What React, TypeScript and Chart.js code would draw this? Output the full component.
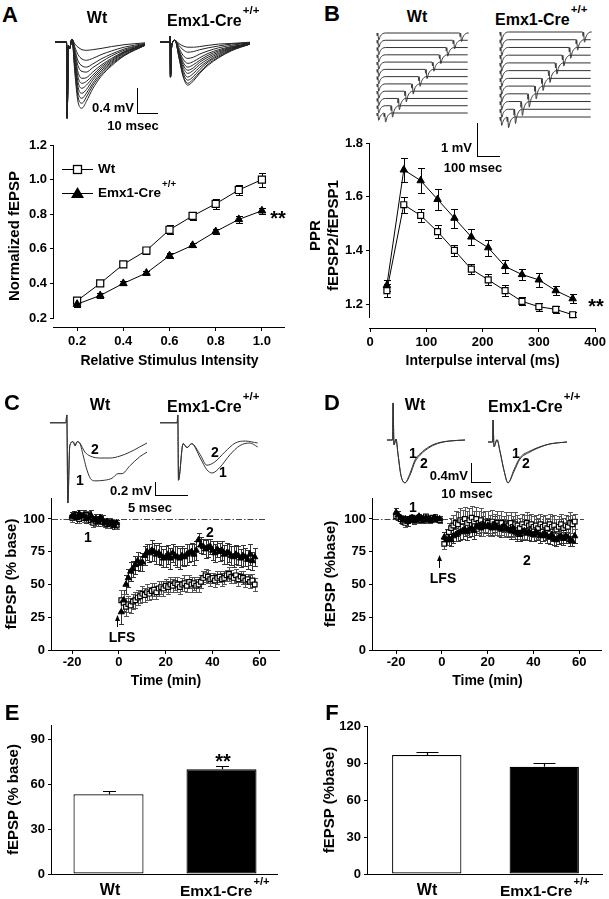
import React, { useEffect, useRef } from 'react';
import { Chart, registerables } from 'chart.js';

Chart.register(...registerables);

const FONT = '"Liberation Sans", Arial, Helvetica, sans-serif';

// ===== Panel A: input-output =====
const A_INTENSITY = [0.2, 0.3, 0.4, 0.5, 0.6, 0.7, 0.8, 0.9, 1.0];
const A_WT = [0.30, 0.40, 0.51, 0.59, 0.71, 0.79, 0.86, 0.94, 1.00];
const A_WT_ERR = [0.015, 0.012, 0.018, 0.02, 0.025, 0.025, 0.03, 0.03, 0.04];
const A_EMX = [0.28, 0.33, 0.40, 0.46, 0.56, 0.62, 0.70, 0.77, 0.82];
const A_EMX_ERR = [0.015, 0.012, 0.012, 0.012, 0.015, 0.012, 0.012, 0.018, 0.018];
const A_X_TICKS = [0.2, 0.4, 0.6, 0.8, 1.0];
const A_Y_TICKS = [0.2, 0.4, 0.6, 0.8, 1.0, 1.2];

// A example traces (ms, mV)
const A_WT_PREFIX = [[0, 0], [5.5, 0], [5.8, -1.22], [6.4, -0.05], [7.0, -0.1], [8.1, 0.05]];
const A_WT_TIMES = [9.5, 11, 12.9, 15, 18, 22, 27, 33, 43];
const A_WT_TRACES = [
  [-0.03, -0.08, -0.12, -0.13, -0.12, -0.10, -0.07, -0.04, -0.01],
  [-0.08, -0.20, -0.27, -0.29, -0.26, -0.20, -0.14, -0.08, -0.02],
  [-0.12, -0.30, -0.38, -0.40, -0.35, -0.27, -0.19, -0.11, -0.03],
  [-0.16, -0.38, -0.47, -0.48, -0.41, -0.32, -0.22, -0.13, -0.03],
  [-0.20, -0.48, -0.58, -0.57, -0.48, -0.37, -0.26, -0.15, -0.04],
  [-0.24, -0.56, -0.66, -0.63, -0.53, -0.40, -0.28, -0.16, -0.04],
  [-0.29, -0.64, -0.74, -0.69, -0.57, -0.43, -0.30, -0.17, -0.04],
  [-0.34, -0.72, -0.82, -0.76, -0.61, -0.46, -0.32, -0.18, -0.05],
  [-0.39, -0.80, -0.90, -0.82, -0.66, -0.49, -0.34, -0.20, -0.05],
  [-0.44, -0.88, -0.98, -0.88, -0.70, -0.52, -0.36, -0.21, -0.05],
  [-0.50, -0.96, -1.06, -0.95, -0.75, -0.55, -0.38, -0.22, -0.05],
];
const A_EMX_PREFIX = [[0, 0], [4.6, 0], [4.8, 0.19], [5.0, -0.56], [5.6, -0.05], [7.2, 0.03]];
const A_EMX_TIMES = [9, 11, 13.3, 16, 19, 23, 28, 34, 43];
const A_EMX_TRACES = [
  [-0.02, -0.06, -0.08, -0.08, -0.07, -0.05, -0.03, -0.02, 0],
  [-0.05, -0.12, -0.16, -0.15, -0.12, -0.09, -0.06, -0.03, -0.01],
  [-0.09, -0.21, -0.26, -0.24, -0.19, -0.14, -0.09, -0.05, -0.01],
  [-0.12, -0.27, -0.34, -0.31, -0.25, -0.18, -0.12, -0.07, -0.02],
  [-0.14, -0.32, -0.40, -0.36, -0.29, -0.21, -0.14, -0.08, -0.02],
  [-0.16, -0.36, -0.45, -0.41, -0.32, -0.24, -0.16, -0.09, -0.02],
  [-0.18, -0.40, -0.50, -0.45, -0.36, -0.27, -0.18, -0.10, -0.03],
  [-0.20, -0.45, -0.56, -0.50, -0.40, -0.30, -0.20, -0.11, -0.03],
  [-0.21, -0.49, -0.61, -0.55, -0.44, -0.32, -0.22, -0.12, -0.03],
  [-0.23, -0.53, -0.66, -0.59, -0.48, -0.35, -0.24, -0.13, -0.03],
  [-0.24, -0.55, -0.69, -0.62, -0.50, -0.37, -0.25, -0.14, -0.03],
];

// ===== Panel B: paired-pulse ratio =====
const B_INTERVAL = [30, 60, 90, 120, 150, 180, 210, 240, 270, 300, 330, 360];
const B_WT = [1.25, 1.57, 1.53, 1.47, 1.40, 1.33, 1.29, 1.25, 1.21, 1.19, 1.18, 1.16];
const B_WT_ERR = [0.025, 0.03, 0.025, 0.025, 0.02, 0.02, 0.02, 0.02, 0.015, 0.015, 0.012, 0.01];
const B_EMX = [1.27, 1.70, 1.66, 1.59, 1.52, 1.45, 1.41, 1.34, 1.31, 1.29, 1.25, 1.22];
const B_EMX_ERR = [0.02, 0.045, 0.045, 0.04, 0.035, 0.03, 0.03, 0.025, 0.02, 0.025, 0.018, 0.018];
const B_X_TICKS = [0, 100, 200, 300, 400];
const B_Y_TICKS = [1.2, 1.4, 1.6, 1.8];
// one fEPSP in the stacked example traces (ms, mV)
const B_DIP = [[0, 0], [2, -0.1], [4, 0], [8, -0.24], [14, -0.12], [24, -0.03], [38, 0]];
const B_TRACE_END = 395;

// ===== Panels C & D: time course =====
const TIME_PRE = [-20, -19, -18, -17, -16, -15, -14, -13, -12, -11, -10, -9, -8, -7, -6, -5, -4, -3, -2, -1];
const TIME_POST = [1, 2, 3, 4, 5, 6, 7, 8, 9, 10, 11, 12, 13, 14, 15, 16, 17, 18, 19, 20,
  21, 22, 23, 24, 25, 26, 27, 28, 29, 30, 31, 32, 33, 34, 35, 36, 37, 38, 39, 40,
  41, 42, 43, 44, 45, 46, 47, 48, 49, 50, 51, 52, 53, 54, 55, 56, 57, 58];
const TC_Y_TICKS = [0, 25, 50, 75, 100];
const TC_X_TICKS = [-20, 0, 20, 40, 60];

const C_EMX_PRE = [102, 103, 101, 104, 102, 103, 100, 101, 103, 99, 100, 98, 101, 99, 97, 98, 96, 97, 95, 97];
const C_EMX_PRE_ERR = [3, 3, 4, 3, 3, 4, 3, 3, 4, 3, 4, 3, 3, 4, 3, 3, 3, 2, 3, 2];
const C_WT_PRE = [101, 102, 103, 100, 102, 101, 103, 102, 99, 97, 98, 99, 100, 98, 97, 96, 98, 97, 96, 95];
const C_WT_PRE_ERR = [3, 3, 2, 3, 3, 3, 3, 4, 3, 3, 3, 3, 4, 3, 3, 3, 3, 3, 2, 3];
const C_EMX_POST = [29, 38, 50, 55, 60, 62, 65, 68, 66, 67, 72, 75, 74, 76, 75, 73, 74, 72, 70, 71,
  73, 70, 74, 72, 71, 70, 72, 71, 73, 74, 75, 73, 76, 84, 80, 79, 77, 78, 79, 76,
  74, 77, 75, 76, 73, 74, 74, 72, 71, 73, 72, 70, 72, 71, 69, 73, 68, 71];
const C_EMX_POST_ERR = [9, 8, 7, 7, 7, 6, 7, 7, 6, 7, 7, 6, 7, 8, 7, 7, 8, 7, 7, 8,
  7, 8, 7, 7, 8, 8, 7, 7, 8, 7, 7, 8, 7, 5, 6, 6, 7, 7, 6, 7,
  7, 6, 7, 7, 7, 8, 7, 7, 8, 7, 7, 7, 8, 7, 7, 8, 7, 7];
const C_WT_POST = [38, 36, 33, 35, 34, 37, 38, 40, 41, 43, 42, 44, 43, 45, 46, 44, 47, 48, 47, 49,
  48, 50, 49, 51, 50, 48, 50, 51, 49, 52, 50, 51, 49, 50, 52, 55, 57, 56, 54, 55,
  53, 55, 56, 54, 55, 57, 58, 56, 55, 57, 54, 56, 55, 53, 54, 52, 53, 50];
const C_WT_POST_ERR = [8, 7, 7, 6, 6, 6, 6, 6, 5, 6, 5, 6, 5, 6, 5, 5, 6, 5, 6, 5,
  5, 6, 5, 5, 6, 5, 5, 6, 5, 5, 6, 5, 5, 6, 5, 5, 5, 5, 5, 4,
  5, 5, 4, 5, 5, 4, 5, 5, 4, 5, 5, 4, 5, 5, 4, 5, 5, 5];

const D_EMX_PRE = [105, 103, 101, 99, 100, 98, 100, 101, 99, 100, 102, 100, 99, 101, 100, 99, 100, 101, 100, 100];
const D_EMX_PRE_ERR = [3, 3, 2, 3, 2, 3, 2, 2, 3, 2, 2, 3, 2, 2, 3, 2, 2, 3, 2, 2];
const D_WT_PRE = [102, 101, 100, 98, 97, 99, 100, 101, 99, 100, 101, 99, 100, 102, 100, 99, 101, 100, 100, 99];
const D_WT_PRE_ERR = [2, 2, 3, 2, 3, 2, 2, 2, 2, 3, 2, 2, 2, 2, 3, 2, 2, 2, 2, 2];
const D_EMX_POST = [86, 84, 85, 84, 87, 88, 89, 90, 91, 92, 90, 92, 93, 91, 94, 95, 93, 96, 94, 95,
  94, 93, 96, 94, 93, 92, 95, 93, 92, 91, 93, 90, 89, 88, 90, 91, 89, 90, 89, 88,
  90, 89, 87, 88, 89, 87, 86, 88, 85, 84, 86, 87, 85, 87, 86, 84, 83, 87];
const D_EMX_POST_ERR = [4, 4, 5, 5, 5, 5, 6, 6, 6, 5, 6, 6, 6, 6, 6, 6, 6, 6, 5, 6,
  6, 6, 6, 6, 6, 6, 5, 6, 6, 6, 6, 5, 6, 5, 6, 6, 5, 6, 6, 5,
  6, 5, 5, 5, 5, 5, 5, 5, 5, 5, 5, 5, 5, 5, 4, 5, 4, 5];
const D_WT_POST = [81, 86, 90, 93, 95, 97, 96, 99, 98, 100, 97, 99, 101, 98, 100, 97, 99, 96, 98, 97,
  95, 98, 96, 97, 95, 97, 94, 96, 95, 97, 94, 96, 95, 93, 96, 94, 97, 95, 96, 94,
  95, 93, 96, 94, 95, 93, 96, 94, 95, 92, 94, 96, 93, 95, 94, 97, 96, 98];
const D_WT_POST_ERR = [4, 6, 7, 8, 8, 9, 9, 9, 9, 9, 9, 9, 9, 8, 9, 9, 9, 9, 8, 9,
  8, 9, 8, 9, 8, 9, 8, 9, 8, 8, 8, 9, 8, 8, 8, 9, 8, 8, 8, 8,
  8, 8, 8, 8, 8, 8, 8, 8, 8, 8, 8, 8, 8, 8, 8, 8, 7, 6];

// C example traces (ms, mV)
const C_WT_PREFIX = [[0, 0], [2.4, 0], [2.55, 0.12], [2.7, -1.23], [3.0, -0.35], [3.5, -0.29], [3.8, -0.35], [4.1, -0.29], [4.5, -0.31]];
const C_WT_TRACE_2 = [[5.3, -0.45], [6.1, -0.51], [7.6, -0.54], [9.1, -0.54], [10.6, -0.51], [12.1, -0.45], [13.6, -0.37], [14.7, -0.31]];
const C_WT_TRACE_1 = [[5.0, -0.49], [5.5, -0.69], [6.1, -0.85], [6.8, -0.89], [8.3, -0.88], [9.4, -0.85], [10.3, -0.78], [10.9, -0.78], [12.1, -0.66], [13.6, -0.52], [14.7, -0.45]];
const C_EMX_PREFIX = [[0, 0], [2.6, 0], [2.7, 0.12], [2.8, -0.88], [3.5, -0.32], [4.1, -0.38], [4.8, -0.32]];
const C_EMX_TRACE_2 = [[6.1, -0.49], [7.1, -0.65], [8.3, -0.60], [9.8, -0.45], [11.4, -0.31], [12.9, -0.28], [14.8, -0.31]];
const C_EMX_TRACE_1 = [[6.1, -0.54], [7.1, -0.72], [7.9, -0.77], [9.1, -0.68], [10.6, -0.49], [12.1, -0.35], [13.6, -0.31], [14.8, -0.37]];

// D example traces (ms, mV)
const D_WT_PREFIX = [[0, 0], [2.8, 0], [3, 0.78], [3.5, -0.1], [4.5, 0.02], [5.5, -0.3], [7, -0.75], [9, -0.9]];
const D_WT_TRACE_1 = [[11.5, -0.74], [14, -0.46], [16.5, -0.32], [21.5, -0.15], [26.5, -0.06], [31.5, -0.02], [39, 0]];
const D_WT_TRACE_2 = [[11.5, -0.70], [14, -0.42], [16.5, -0.29], [21.5, -0.13], [26.5, -0.05], [31.5, -0.02], [39, 0]];
const D_EMX_PREFIX = [[0, 0], [2.3, 0], [2.5, 0.46], [3, -0.1], [4.5, 0.05], [6, -0.2], [8, -0.6], [10, -0.86]];
const D_EMX_TRACE_1 = [[13, -0.62], [16, -0.36], [21, -0.21], [26, -0.11], [31, -0.04], [39.5, 0]];
const D_EMX_TRACE_2 = [[13, -0.58], [16, -0.33], [21, -0.19], [26, -0.10], [31, -0.04], [39.5, 0]];

// ===== Panels E & F: bars =====
const GROUPS = ['Wt', 'Emx1-Cre+/+'];
const E_VALUES = [53.5, 70.3];
const E_ERR = [2.0, 2.2];
const E_Y_TICKS = [0, 30, 60, 90];
const F_VALUES = [96.5, 87];
const F_ERR = [2.5, 3];
const F_Y_TICKS = [0, 30, 60, 90, 120];

// ================= helpers =================
const TICK_FONT = { family: FONT, size: 13, weight: 'bold' as const };

function linearAxis(o: any) {
  return {
    type: 'linear',
    bounds: 'data',
    min: o.min,
    max: o.max,
    afterBuildTicks: (s: any) => { s.ticks = o.ticks.map((v: number) => ({ value: v })); },
    afterFit: (s: any) => { if (o.horizontal) s.height = o.size; else s.width = o.size; },
    ticks: {
      font: TICK_FONT, color: '#000', padding: o.tickPad ?? 3, autoSkip: false, maxRotation: 0, minRotation: 0,
      callback: (v: any) => (o.fmt ? o.fmt(Number(v)) : String(v)),
    },
    grid: { display: true, drawOnChartArea: false, drawTicks: true, tickLength: 4, color: '#000', lineWidth: 1 },
    border: { display: false },
    title: o.title
      ? {
        display: true, text: o.title, color: '#000',
        font: { family: FONT, size: o.horizontal ? 14 : 15, weight: 'bold', lineHeight: o.titleLH ?? 1.2 },
        padding: o.horizontal ? { top: 0, bottom: o.titlePad ?? 0 } : { top: o.titlePad ?? 0, bottom: 0 },
      }
      : { display: false },
  };
}

function baseOptions(padding: any, x: any, y: any) {
  return {
    responsive: false, maintainAspectRatio: false, animation: false, devicePixelRatio: 1, events: [],
    layout: { padding },
    plugins: { legend: { display: false }, tooltip: { enabled: false } },
    scales: { x, y },
  };
}

function markerDs(xs: number[], ys: number[], errs: number[], shape: string, r: number, cap: number, line: boolean, errColor = '#000') {
  return {
    data: xs.map((x, i) => ({ x, y: ys[i] })),
    errors: errs, errorCap: cap, errorColor: errColor, errorWidth: 1,
    showLine: line, borderColor: '#000', borderWidth: 1, tension: 0,
    pointStyle: shape === 'sq' ? 'rect' : 'triangle', pointRadius: r,
    pointBackgroundColor: shape === 'sq' ? '#fff' : '#000', pointBorderColor: '#000',
    pointBorderWidth: shape === 'sq' ? 1.2 : 1,
    clip: false,
  };
}

function drawErrorBars(chart: any, layer: string) {
  const ctx = chart.ctx;
  const ys = chart.scales.y;
  chart.data.datasets.forEach((ds: any, i: number) => {
    if (!ds.errors || (ds.errorLayer || 'below') !== layer) return;
    const meta = chart.getDatasetMeta(i);
    ctx.save();
    ctx.strokeStyle = ds.errorColor || '#000';
    ctx.lineWidth = ds.errorWidth || 1;
    meta.data.forEach((el: any, j: number) => {
      const raw = ds.data[j];
      const v = typeof raw === 'number' ? raw : raw.y;
      const e = ds.errors[j];
      if (e == null) return;
      const x = Math.round(el.x) + 0.5;
      const yT = Math.round(ys.getPixelForValue(v + e)) + 0.5;
      const yB = ds.errorUpOnly ? ys.getPixelForValue(v) : Math.round(ys.getPixelForValue(v - e)) + 0.5;
      const h = (ds.errorCap || 6) / 2;
      ctx.beginPath();
      ctx.moveTo(x, yT); ctx.lineTo(x, yB);
      ctx.moveTo(x - h, yT); ctx.lineTo(x + h, yT);
      if (!ds.errorUpOnly) { ctx.moveTo(x - h, yB); ctx.lineTo(x + h, yB); }
      ctx.stroke();
    });
    ctx.restore();
  });
}
const errorBarPlugin = {
  id: 'errorBars',
  beforeDatasetsDraw: (c: any) => drawErrorBars(c, 'below'),
  afterDatasetsDraw: (c: any) => drawErrorBars(c, 'above'),
};

function axisLinesPlugin(yLineMin?: number) {
  return {
    id: 'axisLines',
    afterDraw(chart: any) {
      const { ctx, chartArea: a } = chart;
      const ys = chart.scales.y;
      ctx.save();
      ctx.strokeStyle = '#000';
      ctx.lineWidth = 1;
      const xl = Math.round(a.left) - 0.5;
      const yb = yLineMin != null ? Math.round(ys.getPixelForValue(yLineMin)) + 1 : Math.round(a.bottom) + 1;
      ctx.beginPath(); ctx.moveTo(xl, Math.round(a.top)); ctx.lineTo(xl, yb); ctx.stroke();
      const yx = Math.round(a.bottom) + 0.5;
      ctx.beginPath(); ctx.moveTo(Math.round(a.left) - 1, yx); ctx.lineTo(Math.round(a.right), yx); ctx.stroke();
      ctx.restore();
    },
  };
}

function refMarksPlugin(o: any) {
  return {
    id: 'refMarks',
    beforeDatasetsDraw(chart: any) {
      const { ctx, chartArea: a } = chart;
      const xs = chart.scales.x, ys = chart.scales.y;
      ctx.save();
      ctx.strokeStyle = '#444';
      ctx.lineWidth = 1;
      ctx.setLineDash([6, 2, 1.5, 2]);
      const yy = Math.round(ys.getPixelForValue(o.baseline)) + 0.5;
      ctx.beginPath(); ctx.moveTo(a.left, yy); ctx.lineTo(xs.getPixelForValue(o.lineEnd), yy); ctx.stroke();
      ctx.setLineDash([]);
      const ax = Math.round(xs.getPixelForValue(o.arrowX)) + 0.5;
      const y0 = ys.getPixelForValue(o.arrowFrom);
      const y1 = ys.getPixelForValue(o.arrowTo);
      ctx.strokeStyle = '#000';
      ctx.beginPath(); ctx.moveTo(ax, y0); ctx.lineTo(ax, y1 + 4); ctx.stroke();
      ctx.fillStyle = '#000';
      ctx.beginPath(); ctx.moveTo(ax, y1); ctx.lineTo(ax - 2.5, y1 + 6); ctx.lineTo(ax + 2.5, y1 + 6); ctx.closePath(); ctx.fill();
      ctx.restore();
    },
  };
}

function legendSymbolsPlugin(items: any[]) {
  return {
    id: 'legendSymbols',
    afterDraw(chart: any) {
      const ctx = chart.ctx;
      items.forEach((it) => {
        ctx.save();
        ctx.strokeStyle = '#000';
        ctx.lineWidth = 1;
        ctx.beginPath(); ctx.moveTo(it.x0, it.y + 0.5); ctx.lineTo(it.x1, it.y + 0.5); ctx.stroke();
        const cx = (it.x0 + it.x1) / 2;
        if (it.shape === 'sq') {
          ctx.fillStyle = '#fff';
          ctx.fillRect(cx - 4, it.y - 3.5, 8, 8);
          ctx.lineWidth = 1.3;
          ctx.strokeRect(cx - 4, it.y - 3.5, 8, 8);
        } else {
          ctx.fillStyle = '#000';
          ctx.beginPath(); ctx.moveTo(cx, it.y - 6); ctx.lineTo(cx + 6.5, it.y + 5); ctx.lineTo(cx - 6.5, it.y + 5); ctx.closePath(); ctx.fill();
        }
        ctx.restore();
      });
    },
  };
}

function pts(pairs: number[][]) { return pairs.map(([x, y]) => ({ x, y })); }

function traceConfig(sets: any[][], xr: number[], yr: number[], color = '#222') {
  return {
    type: 'line',
    data: {
      datasets: sets.map((d) => ({
        data: d, borderColor: color, borderWidth: 1, pointRadius: 0,
        cubicInterpolationMode: 'monotone', fill: false, clip: false,
      })),
    },
    options: {
      responsive: false, maintainAspectRatio: false, animation: false, devicePixelRatio: 1, events: [],
      layout: { padding: 0 },
      plugins: { legend: { display: false }, tooltip: { enabled: false } },
      scales: {
        x: { type: 'linear', display: false, min: xr[0], max: xr[1] },
        y: { type: 'linear', display: false, min: yr[0], max: yr[1] },
      },
    },
  };
}

function bTrace(isi: number, ppr: number, base: number, gain: number) {
  const out: any[] = [];
  B_DIP.forEach(([t, v]) => { if (t < isi) out.push({ x: t, y: base + v * gain }); });
  B_DIP.forEach(([t, v]) => out.push({ x: isi + t, y: base + v * gain * ppr }));
  out.push({ x: B_TRACE_END, y: base });
  return out;
}

// ================= chart configs =================
function makeA() {
  return {
    type: 'line',
    data: {
      datasets: [
        markerDs(A_INTENSITY, A_EMX, A_EMX_ERR, 'tri', 4.5, 7, true),
        markerDs(A_INTENSITY, A_WT, A_WT_ERR, 'sq', 5, 7, true),
      ],
    },
    options: baseOptions(
      { top: 15, right: 15, left: 0, bottom: 0 },
      linearAxis({ min: 0.1, max: 1.1, ticks: A_X_TICKS, fmt: (v: number) => v.toFixed(1), size: 43, horizontal: true, title: 'Relative Stimulus Intensity' }),
      linearAxis({ min: 0.148, max: 1.2, ticks: A_Y_TICKS, fmt: (v: number) => v.toFixed(1), size: 54, horizontal: false, title: 'Normalized fEPSP', titlePad: 6 }),
    ),
    plugins: [
      errorBarPlugin,
      axisLinesPlugin(0.2),
      legendSymbolsPlugin([
        { x0: 62, x1: 93, y: 39, shape: 'sq' },
        { x0: 62, x1: 93, y: 63, shape: 'tri' },
      ]),
    ],
  };
}

function makeB() {
  return {
    type: 'line',
    data: {
      datasets: [
        markerDs(B_INTERVAL, B_EMX, B_EMX_ERR, 'tri', 4.3, 7, true),
        markerDs(B_INTERVAL, B_WT, B_WT_ERR, 'sq', 4.2, 7, true),
      ],
    },
    options: baseOptions(
      { top: 13, right: 11, left: 0, bottom: 0 },
      linearAxis({ min: 0, max: 400, ticks: B_X_TICKS, size: 42, horizontal: true, title: 'Interpulse interval (ms)' }),
      linearAxis({ min: 1.1106, max: 1.8, ticks: B_Y_TICKS, fmt: (v: number) => v.toFixed(1), size: 70, horizontal: false, title: ['PPR', 'fEPSP2/fEPSP1'], titlePad: 7, titleLH: 1.2 }),
    ),
    plugins: [errorBarPlugin, axisLinesPlugin(1.15)],
  };
}

function makeTimeCourse(emxPre: number[], emxPreErr: number[], emxPost: number[], emxPostErr: number[],
  wtPre: number[], wtPreErr: number[], wtPost: number[], wtPostErr: number[],
  xmin: number, xmax: number, yAxisW: number, padRight: number, yTitle: string, yTitlePad: number, marks: any) {
  const t = [...TIME_PRE, ...TIME_POST];
  return {
    type: 'line',
    data: {
      datasets: [
        markerDs(t, [...emxPre, ...emxPost], [...emxPreErr, ...emxPostErr], 'tri', 3.6, 5, false, '#333'),
        markerDs(t, [...wtPre, ...wtPost], [...wtPreErr, ...wtPostErr], 'sq', 3.3, 5, false, '#555'),
      ],
    },
    options: baseOptions(
      { top: 18, right: padRight, left: 0, bottom: 0 },
      linearAxis({ min: xmin, max: xmax, ticks: TC_X_TICKS, size: 40, horizontal: true, title: 'Time (min)', tickPad: 1 }),
      linearAxis({ min: 0, max: 116, ticks: TC_Y_TICKS, size: yAxisW, horizontal: false, title: yTitle, titlePad: yTitlePad }),
    ),
    plugins: [refMarksPlugin(marks), errorBarPlugin, axisLinesPlugin()],
  };
}

function makeBars(values: number[], errs: number[], ymax: number, ticks: number[], yAxisW: number, padRight: number, yTitle: string, yTitlePad: number, barPct: number, cap: number) {
  return {
    type: 'bar',
    data: {
      labels: GROUPS,
      datasets: [{
        data: values,
        backgroundColor: ['#fff', '#000'],
        borderColor: '#000',
        borderWidth: 1.2,
        borderSkipped: false,
        barPercentage: barPct,
        categoryPercentage: 1,
        errors: errs, errorUpOnly: true, errorCap: cap, errorLayer: 'above', errorWidth: 1.2,
      }],
    },
    options: baseOptions(
      { top: 20, right: padRight, left: 0, bottom: 0 },
      {
        type: 'category',
        ticks: { display: false },
        grid: { display: false },
        border: { display: false },
        afterFit: (s: any) => { s.height = 25; },
      },
      linearAxis({ min: 0, max: ymax, ticks, size: yAxisW, horizontal: false, title: yTitle, titlePad: yTitlePad }),
    ),
    plugins: [errorBarPlugin, axisLinesPlugin()],
  };
}

// ================= components =================
function ChartCanvas({ left, top, width, height, make }: any) {
  const ref = useRef<HTMLCanvasElement>(null);
  useEffect(() => {
    if (!ref.current) return;
    const chart = new Chart(ref.current, make());
    return () => chart.destroy();
  }, []);
  return (
    <canvas ref={ref} width={width} height={height}
      style={{ position: 'absolute', left, top, width, height }} />
  );
}

function T({ x, y, a = 'c', s = 13, children }: any) {
  const tx = a === 'c' ? '-50%' : a === 'r' ? '-100%' : '0';
  return (
    <div style={{
      position: 'absolute', left: x, top: y, transform: `translate(${tx}, -50%)`,
      font: `bold ${s}px ${FONT}`, lineHeight: 1, whiteSpace: 'nowrap', color: '#000',
    }}>{children}</div>
  );
}

const Emx = () => (
  <>Emx1-Cre<span style={{ fontSize: '0.72em', position: 'relative', top: '-1em', marginLeft: 1 }}>+/+</span></>
);

function ScaleBar({ x, yTop, yBottom, xRight }: any) {
  return (
    <div style={{
      position: 'absolute', left: x, top: yTop, width: xRight - x, height: yBottom - yTop,
      borderLeft: '1.5px solid #000', borderBottom: '1.5px solid #000', boxSizing: 'border-box',
    }} />
  );
}

export default function App() {
  return (
    <div style={{ position: 'absolute', left: 0, top: 0, width: 609, height: 899, background: '#fff', overflow: 'hidden' }}>
      {/* Panel A */}
      <ChartCanvas left={55} top={36} width={90} height={84}
        make={() => traceConfig(A_WT_TRACES.map((vals) => [...pts(A_WT_PREFIX), ...A_WT_TIMES.map((t, k) => ({ x: t, y: vals[k] }))]), [0, 43], [-1.25, 0.1])} />
      <ChartCanvas left={160} top={36} width={90} height={84}
        make={() => traceConfig(A_EMX_TRACES.map((vals) => [...pts(A_EMX_PREFIX), ...A_EMX_TIMES.map((t, k) => ({ x: t, y: vals[k] }))]), [0, 43], [-1.25, 0.1])} />
      <ChartCanvas left={0} top={130} width={300} height={240} make={makeA} />

      {/* Panel B */}
      <ChartCanvas left={375} top={28} width={95} height={100}
        make={() => traceConfig(B_INTERVAL.map((isi, i) => bTrace(isi, B_WT[i], i * 0.24, 1)), [-8, 405], [-0.495, 2.805], '#333')} />
      <ChartCanvas left={498} top={28} width={95} height={100}
        make={() => traceConfig(B_INTERVAL.map((isi, i) => bTrace(isi, B_EMX[i], i * 0.255, 1.15)), [-8, 405], [-0.363, 2.937], '#333')} />
      <ChartCanvas left={300} top={130} width={309} height={240} make={makeB} />

      {/* Panel C */}
      <ChartCanvas left={0} top={480} width={300} height={210}
        make={() => makeTimeCourse(C_EMX_PRE, C_EMX_PRE_ERR, C_EMX_POST, C_EMX_POST_ERR, C_WT_PRE, C_WT_PRE_ERR, C_WT_POST, C_WT_POST_ERR,
          -28.6, 68.8, 52, 20, 'fEPSP (% base)', 2.5, { baseline: 100, lineEnd: 63, arrowX: -1, arrowFrom: 17.5, arrowTo: 26.7 })} />
      <ChartCanvas left={50} top={413} width={98} height={92}
        make={() => traceConfig([[...pts(C_WT_PREFIX), ...pts(C_WT_TRACE_1)], [...pts(C_WT_PREFIX), ...pts(C_WT_TRACE_2)]], [0, 14.85], [-1.26, 0.15], '#333')} />
      <ChartCanvas left={160} top={413} width={98} height={92}
        make={() => traceConfig([[...pts(C_EMX_PREFIX), ...pts(C_EMX_TRACE_1)], [...pts(C_EMX_PREFIX), ...pts(C_EMX_TRACE_2)]], [0, 14.85], [-1.26, 0.15], '#333')} />

      {/* Panel D */}
      <ChartCanvas left={300} top={480} width={309} height={210}
        make={() => makeTimeCourse(D_EMX_PRE, D_EMX_PRE_ERR, D_EMX_POST, D_EMX_POST_ERR, D_WT_PRE, D_WT_PRE_ERR, D_WT_POST, D_WT_POST_ERR,
          -30.1, 69.9, 73, 7, 'fEPSP (%base)', 22, { baseline: 100, lineEnd: 62, arrowX: -1.3, arrowFrom: 62.6, arrowTo: 72.5 })} />
      <ChartCanvas left={387} top={400} width={80} height={86}
        make={() => traceConfig([[...pts(D_WT_PREFIX), ...pts(D_WT_TRACE_1)], [...pts(D_WT_PREFIX), ...pts(D_WT_TRACE_2)]], [0, 40], [-0.968, 0.842], '#333')} />
      <ChartCanvas left={488} top={400} width={80} height={86}
        make={() => traceConfig([[...pts(D_EMX_PREFIX), ...pts(D_EMX_TRACE_1)], [...pts(D_EMX_PREFIX), ...pts(D_EMX_TRACE_2)]], [0, 40], [-0.926, 0.884], '#333')} />

      {/* Panel E & F */}
      <ChartCanvas left={0} top={705} width={300} height={194}
        make={() => makeBars(E_VALUES, E_ERR, 100, E_Y_TICKS, 52, 22, 'fEPSP (% base)', 4.5, 0.62, 13)} />
      <ChartCanvas left={300} top={706} width={309} height={193}
        make={() => makeBars(F_VALUES, F_ERR, 120, F_Y_TICKS, 68, 6, 'fEPSP (%base)', 21, 0.59, 22)} />

      {/* Scale bars */}
      <ScaleBar x={137} yTop={88} yBottom={114} xRight={158} />
      <ScaleBar x={477} yTop={123} yBottom={157} xRight={500} />
      <ScaleBar x={155} yTop={482} yBottom={496} xRight={188} />
      <ScaleBar x={471} yTop={463} yBottom={483} xRight={491} />

      {/* Text: panel A */}
      <T x={10} y={15} s={22}>A</T>
      <T x={97} y={18} s={16}>Wt</T>
      <T x={167} y={21} s={16} a="l"><Emx /></T>
      <T x={134} y={107} a="r">0.4 mV</T>
      <T x={133} y={125}>10 msec</T>
      <T x={98} y={169} a="l" s={13.5}>Wt</T>
      <T x={98} y={193} a="l" s={13.5}><Emx /></T>
      <T x={278} y={218} s={20}>**</T>

      {/* Text: panel B */}
      <T x={332} y={14} s={22}>B</T>
      <T x={417} y={17} s={16}>Wt</T>
      <T x={495} y={20} s={16} a="l"><Emx /></T>
      <T x={472} y={147} a="r">1 mV</T>
      <T x={473} y={167}>100 msec</T>
      <T x={596} y={306} s={20}>**</T>

      {/* Text: panel C */}
      <T x={12} y={403} s={22}>C</T>
      <T x={100} y={405} s={16}>Wt</T>
      <T x={167} y={407} s={16} a="l"><Emx /></T>
      <T x={95} y={449} s={14}>2</T>
      <T x={80} y={480} s={14}>1</T>
      <T x={215} y={452} s={14}>2</T>
      <T x={223} y={472} s={14}>1</T>
      <T x={152} y={490} a="r">0.2 mV</T>
      <T x={150} y={507}>5 msec</T>
      <T x={88} y={537} s={14}>1</T>
      <T x={210} y={532} s={14}>2</T>
      <T x={122} y={637} s={14}>LFS</T>

      {/* Text: panel D */}
      <T x={332} y={403} s={22}>D</T>
      <T x={415} y={405} s={16}>Wt</T>
      <T x={488} y={407} s={16} a="l"><Emx /></T>
      <T x={413} y={453} s={14}>1</T>
      <T x={424} y={463} s={14}>2</T>
      <T x={516} y={453} s={14}>1</T>
      <T x={526} y={463} s={14}>2</T>
      <T x={468} y={475} a="r">0.4mV</T>
      <T x={467} y={493}>10 msec</T>
      <T x={413} y={507} s={14}>1</T>
      <T x={527} y={560} s={14}>2</T>
      <T x={443} y={578} s={14}>LFS</T>

      {/* Text: panel E */}
      <T x={12} y={713} s={22}>E</T>
      <T x={223} y={761} s={20}>**</T>
      <T x={110} y={890} s={16}>Wt</T>
      <T x={180} y={891} s={15.5} a="l"><Emx /></T>

      {/* Text: panel F */}
      <T x={332} y={713} s={22}>F</T>
      <T x={427} y={890} s={16}>Wt</T>
      <T x={500} y={891} s={15.5} a="l"><Emx /></T>
    </div>
  );
}
